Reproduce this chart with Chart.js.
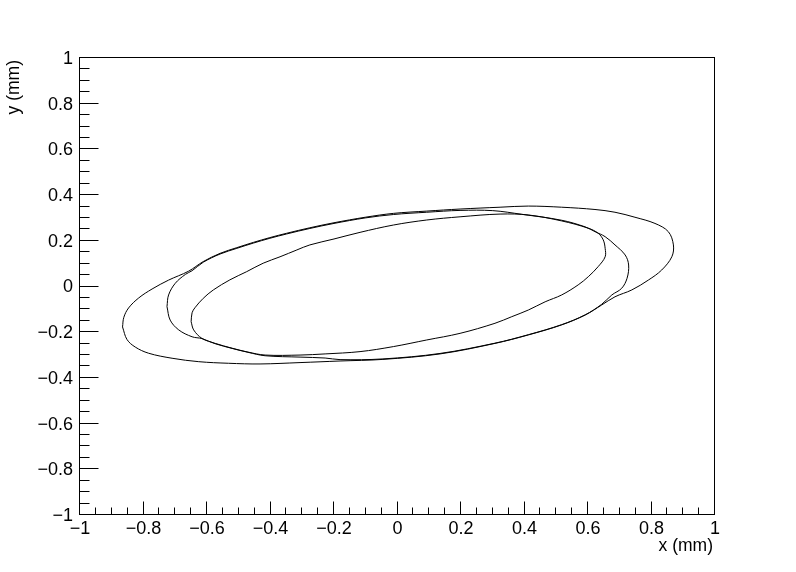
<!DOCTYPE html>
<html>
<head>
<meta charset="utf-8">
<script src="https://cdn.jsdelivr.net/npm/chart.js@4.4.1/dist/chart.umd.min.js"></script>
<style>
  html, body { margin: 0; padding: 0; background: #ffffff; }
  #wrap { width: 796px; height: 572px; }
</style>
</head>
<body>
<div id="wrap"><canvas id="ellipses" width="796" height="572"></canvas></div>
<script>
(() => {
    'use strict';

    // outer envelope
    const outerX = [-0.866, -0.862, -0.847, -0.815, -0.773, -0.721, -0.658, -0.612, -0.559, -0.506, -0.454, -0.402, -0.349, -0.276, -0.200, -0.102, -0.013, 0.092, 0.197, 0.323, 0.412, 0.517, 0.622, 0.685, 0.748, 0.811, 0.853, 0.869, 0.864, 0.832, 0.790, 0.738, 0.685, 0.643, 0.591, 0.517, 0.412, 0.307, 0.134, -0.046, -0.181, -0.307, -0.433, -0.532, -0.626, -0.710, -0.784, -0.826, -0.852, -0.866];
    const outerY = [-0.177, -0.135, -0.094, -0.050, -0.011, 0.028, 0.067, 0.109, 0.145, 0.170, 0.193, 0.214, 0.233, 0.257, 0.279, 0.303, 0.320, 0.330, 0.339, 0.347, 0.352, 0.347, 0.337, 0.325, 0.303, 0.276, 0.240, 0.182, 0.130, 0.072, 0.028, -0.015, -0.045, -0.081, -0.125, -0.168, -0.212, -0.249, -0.295, -0.319, -0.326, -0.333, -0.339, -0.336, -0.329, -0.314, -0.292, -0.265, -0.232, -0.177];

    // middle envelope
    const middleX = [-0.726, -0.721, -0.700, -0.668, -0.647, -0.612, -0.559, -0.506, -0.454, -0.402, -0.349, -0.276, -0.200, -0.102, -0.013, 0.092, 0.197, 0.300, 0.391, 0.517, 0.591, 0.622, 0.654, 0.685, 0.717, 0.728, 0.723, 0.706, 0.675, 0.643, 0.591, 0.517, 0.412, 0.307, 0.134, -0.046, -0.181, -0.228, -0.307, -0.417, -0.471, -0.521, -0.575, -0.616, -0.647, -0.689, -0.716, -0.726];
    const middleY = [-0.088, -0.037, 0.014, 0.053, 0.069, 0.106, 0.142, 0.167, 0.190, 0.211, 0.230, 0.254, 0.276, 0.300, 0.315, 0.325, 0.333, 0.332, 0.316, 0.290, 0.261, 0.240, 0.218, 0.182, 0.138, 0.094, 0.036, -0.008, -0.037, -0.078, -0.124, -0.167, -0.211, -0.248, -0.293, -0.317, -0.320, -0.313, -0.309, -0.303, -0.288, -0.271, -0.250, -0.228, -0.220, -0.190, -0.147, -0.088];

    // inner envelope
    const innerX = [-0.650, -0.647, -0.638, -0.612, -0.580, -0.528, -0.475, -0.423, -0.370, -0.317, -0.276, -0.200, -0.118, -0.013, 0.092, 0.197, 0.323, 0.412, 0.517, 0.601, 0.632, 0.648, 0.654, 0.654, 0.632, 0.601, 0.569, 0.517, 0.465, 0.412, 0.360, 0.307, 0.197, 0.092, -0.013, -0.118, -0.228, -0.307, -0.417, -0.471, -0.521, -0.574, -0.616, -0.642, -0.650];
    const innerY = [-0.154, -0.115, -0.093, -0.052, -0.015, 0.029, 0.065, 0.102, 0.130, 0.160, 0.182, 0.208, 0.237, 0.269, 0.291, 0.305, 0.317, 0.313, 0.287, 0.255, 0.233, 0.204, 0.167, 0.130, 0.087, 0.043, 0.007, -0.037, -0.067, -0.103, -0.132, -0.161, -0.205, -0.234, -0.263, -0.285, -0.295, -0.300, -0.300, -0.287, -0.270, -0.249, -0.227, -0.190, -0.154];

    const axisMin = -1;
    const axisMax = 1;
    const majorStep = 0.2;
    const minorStep = 0.05;
    const xTitle = 'x (mm)';
    const yTitle = 'y (mm)';

    const font = '"Liberation Sans", Arial, Helvetica, sans-serif';

    const toPoints = (xs, ys) => xs.map((x, i) => ({ x, y: ys[i] }));

    const formatTick = (value) => {
        const v = Math.round(value * 10) / 10;
        if (v === 0) {
            return '0';
        }
        return String(v).replace('-', '\u2212');
    };

    // ROOT style frame, inward ticks and axis titles
    const rootFrame = {
        id: 'rootFrame',
        afterDraw(chart) {
            const { ctx, chartArea, scales } = chart;
            const left = chartArea.left - 0.5;
            const right = chartArea.right - 0.5;
            const top = chartArea.top - 0.5;
            const bottom = chartArea.bottom - 0.5;

            ctx.save();
            ctx.strokeStyle = '#000000';
            ctx.lineWidth = 1;
            ctx.strokeRect(left, top, right - left, bottom - top);

            ctx.beginPath();
            const count = Math.round((axisMax - axisMin) / minorStep);
            for (let i = 0; i <= count; i++) {
                const value = axisMin + i * minorStep;
                const major = i % Math.round(majorStep / minorStep) === 0;

                const px = Math.round(scales.x.getPixelForValue(value)) - 0.5;
                ctx.moveTo(px, bottom);
                ctx.lineTo(px, bottom - (major ? 13 : 7));

                const py = Math.round(scales.y.getPixelForValue(value)) - 0.5;
                ctx.moveTo(left, py);
                ctx.lineTo(left + (major ? 19 : 10), py);
            }
            ctx.stroke();

            ctx.fillStyle = '#000000';
            ctx.font = `17.5px ${font}`;
            ctx.textAlign = 'right';
            ctx.textBaseline = 'alphabetic';
            ctx.fillText(xTitle, 713, 551);

            ctx.translate(19, 60);
            ctx.rotate(-Math.PI / 2);
            ctx.fillText(yTitle, 0, 0);
            ctx.restore();
        },
    };

    const line = (xs, ys) => ({
        data: toPoints(xs, ys),
        showLine: true,
        borderColor: '#000000',
        borderWidth: 1,
        pointRadius: 0,
        pointHoverRadius: 0,
        fill: false,
        tension: 0.35,
    });

    new Chart(document.getElementById('ellipses'), {
        type: 'scatter',
        data: {
            datasets: [
                line(outerX, outerY),
                line(middleX, middleY),
                line(innerX, innerY),
            ],
        },
        plugins: [rootFrame],
        options: {
            responsive: false,
            animation: false,
            devicePixelRatio: 1,
            layout: {
                padding: { left: 0, top: 58, right: 81, bottom: 0 },
            },
            plugins: {
                legend: { display: false },
                tooltip: { enabled: false },
            },
            scales: {
                x: {
                    type: 'linear',
                    min: axisMin,
                    max: axisMax,
                    grid: { display: false, drawTicks: false },
                    border: { display: false },
                    afterFit: (scale) => { scale.height = 57; },
                    ticks: {
                        stepSize: majorStep,
                        color: '#000000',
                        padding: 3,
                        maxRotation: 0,
                        autoSkip: false,
                        font: { family: font, size: 18 },
                        callback: formatTick,
                    },
                },
                y: {
                    type: 'linear',
                    min: axisMin,
                    max: axisMax,
                    grid: { display: false, drawTicks: false },
                    border: { display: false },
                    afterFit: (scale) => { scale.width = 80; },
                    ticks: {
                        stepSize: majorStep,
                        color: '#000000',
                        padding: 7,
                        labelOffset: 1,
                        autoSkip: false,
                        font: { family: font, size: 18 },
                        callback: formatTick,
                    },
                },
            },
        },
    });
})();
</script>
</body>
</html>
